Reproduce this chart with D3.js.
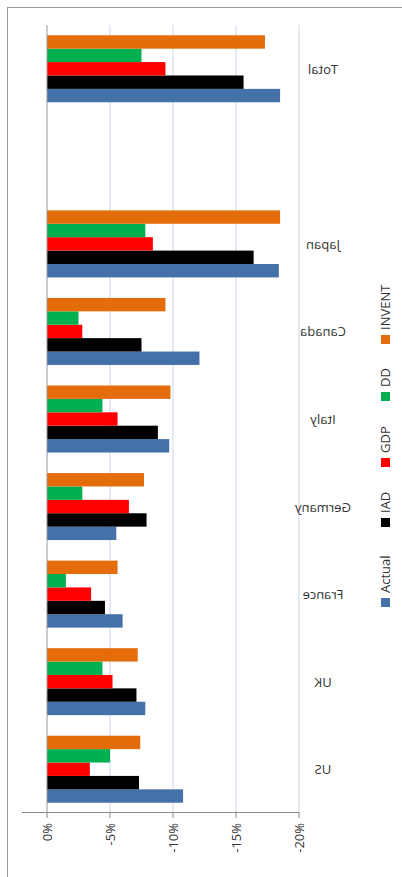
<!DOCTYPE html>
<html><head><meta charset="utf-8">
<script src="https://cdn.jsdelivr.net/npm/d3@7"></script>
<style>body{margin:0;background:#fff}svg{display:block;font-family:"Open Sans",sans-serif}</style>
</head><body><svg id="c" width="402" height="877"></svg>
<script>
const categories = ['US', 'UK', 'France', 'Germany', 'Italy', 'Canada', 'Japan', '', 'Total'];
const seriesNames = ['Actual', 'IAD', 'GDP', 'DD', 'INVENT'];
const colors = ['#4472a8', '#000000', '#ff0000', '#00b050', '#e46c0a'];
const actual = [-10.8, -7.8, -6.0, -5.5, -9.7, -12.1, -18.4, null, -18.5];
const iad    = [-7.3, -7.1, -4.6, -7.9, -8.8, -7.5, -16.4, null, -15.6];
const gdp    = [-3.4, -5.2, -3.5, -6.5, -5.6, -2.8, -8.4, null, -9.4];
const dd     = [-5.0, -4.4, -1.5, -2.8, -4.4, -2.5, -7.8, null, -7.5];
const invent = [-7.4, -7.2, -5.6, -7.7, -9.8, -9.4, -18.5, null, -17.3];
const ticks = [0, -5, -10, -15, -20];
const series = [actual, iad, gdp, dd, invent];

const svg = d3.select('#c');
svg.append('rect').attr('x', 7.5).attr('y', 7.5).attr('width', 430).attr('height', 900)
  .attr('fill', 'none').attr('stroke', '#999');

const x = d3.scaleLinear().domain([0, -20]).range([47, 299]);
const y = d3.scaleBand().domain(categories.map((c, i) => i)).range([813, 25]);
const inner = d3.scaleBand().domain(d3.range(5)).range([y.bandwidth() / 2 + 33.5, y.bandwidth() / 2 - 33.5]);

// gridlines
svg.append('g').selectAll('line').data(ticks.slice(1)).join('line')
  .attr('x1', d => x(d)).attr('x2', d => x(d)).attr('y1', 25).attr('y2', 813)
  .attr('stroke', '#c9d7ea').attr('stroke-width', 1);

// bars
categories.forEach((c, ci) => {
  series.forEach((s, si) => {
    if (s[ci] == null) return;
    svg.append('rect')
      .attr('x', x(0)).attr('width', x(s[ci]) - x(0))
      .attr('y', y(ci) + inner(si)).attr('height', inner.bandwidth())
      .attr('fill', colors[si]);
  });
});

// axes lines
svg.append('line').attr('x1', x(0)).attr('x2', x(0)).attr('y1', 25).attr('y2', 813).attr('stroke', '#999');
svg.append('line').attr('x1', 22).attr('x2', 299).attr('y1', 812.5).attr('y2', 812.5).attr('stroke', '#888');
svg.append('g').selectAll('line').data(ticks).join('line')
  .attr('x1', d => x(d)).attr('x2', d => x(d)).attr('y1', 812).attr('y2', 818).attr('stroke', '#888');
svg.append('g').selectAll('text').data(ticks).join('text')
  .attr('transform', d => `translate(${x(d) + 5},${823}) rotate(-90)`)
  .attr('text-anchor', 'end').attr('font-size', 13).attr('fill', '#333')
  .text(d => d + '%');

// category labels (mirrored)
svg.append('g').selectAll('text').data(categories).join('text')
  .attr('transform', (d, i) => `translate(${323},${y(i) + y.bandwidth() / 2 + 5}) scale(-1,1)`)
  .attr('text-anchor', 'middle').attr('font-size', 13).attr('fill', '#333')
  .text(d => d);

// legend
const legY = [603, 523, 463, 397, 340];
const lg = svg.append('g');
seriesNames.forEach((n, i) => {
  lg.append('rect').attr('x', 381).attr('y', legY[i] - 5).attr('width', 9).attr('height', 9).attr('fill', colors[i]);
  lg.append('text').attr('transform', `translate(${390},${legY[i] - 10}) rotate(-90)`)
    .attr('font-size', 13).attr('fill', '#333').text(n);
});
</script></body></html>
